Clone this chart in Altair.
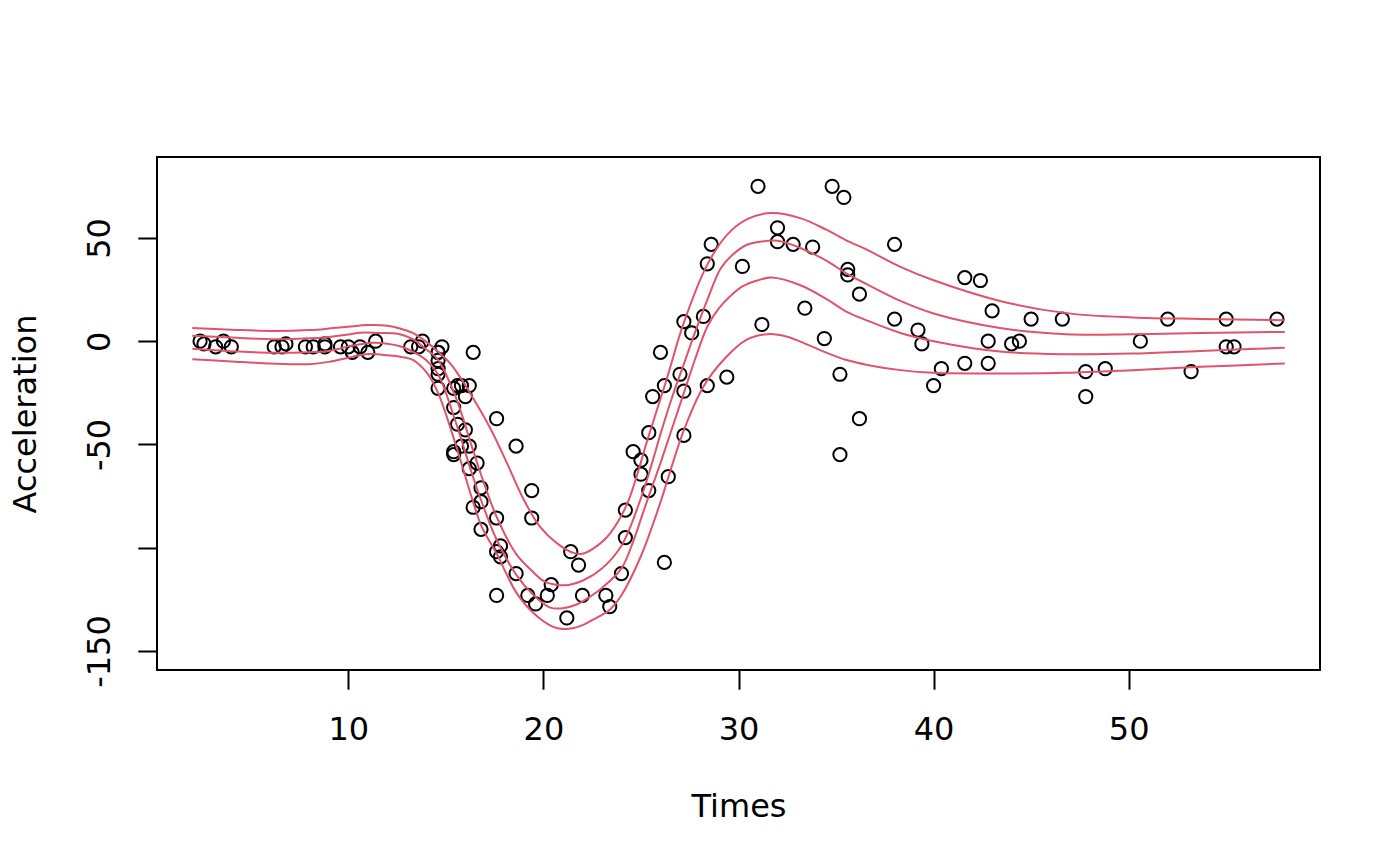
import altair as alt
import pandas as pd

# mcycle data
times = [2.4, 2.6, 3.2, 3.6, 4.0, 6.2, 6.6, 6.8, 7.8, 8.2,
         8.8, 8.8, 9.6, 10.0, 10.2, 10.6, 11.0, 11.4, 13.2, 13.6,
         13.8, 14.6, 14.6, 14.6, 14.6, 14.6, 14.6, 14.8, 15.4, 15.4,
         15.4, 15.4, 15.6, 15.6, 15.8, 15.8, 16.0, 16.0, 16.2, 16.2,
         16.2, 16.4, 16.4, 16.6, 16.8, 16.8, 16.8, 17.6, 17.6, 17.6,
         17.6, 17.8, 17.8, 18.6, 18.6, 19.2, 19.4, 19.4, 19.6, 20.2,
         20.4, 21.2, 21.4, 21.8, 22.0, 23.2, 23.4, 24.0, 24.2, 24.2,
         24.6, 25.0, 25.0, 25.4, 25.4, 25.6, 26.0, 26.2, 26.2, 26.4,
         27.0, 27.2, 27.2, 27.2, 27.6, 28.2, 28.4, 28.4, 28.6, 29.4,
         30.2, 31.0, 31.2, 32.0, 32.0, 32.8, 33.4, 33.8, 34.4, 34.8,
         35.2, 35.2, 35.4, 35.6, 35.6, 36.2, 36.2, 38.0, 38.0, 39.2,
         39.4, 40.0, 40.4, 41.6, 41.6, 42.4, 42.8, 42.8, 43.0, 44.0,
         44.4, 45.0, 46.6, 47.8, 47.8, 48.8, 50.6, 52.0, 53.2, 55.0,
         55.0, 55.4, 57.6]
accel = [0.0, -1.3, -2.7, 0.0, -2.7, -2.7, -2.7, -1.3, -2.7, -2.7,
         -1.3, -2.7, -2.7, -2.7, -5.4, -2.7, -5.4, 0.0, -2.7, -2.7,
         0.0, -13.3, -5.4, -5.4, -9.3, -16.0, -22.8, -2.7, -22.8, -32.1,
         -53.5, -54.9, -40.2, -21.5, -21.5, -50.8, -42.9, -26.8, -21.5, -50.8,
         -61.7, -5.4, -80.4, -59.0, -71.0, -91.1, -77.7, -37.5, -85.6, -123.1,
         -101.9, -99.1, -104.4, -112.5, -50.8, -123.1, -85.6, -72.3, -127.2, -123.1,
         -117.9, -134.0, -101.9, -108.4, -123.1, -123.1, -128.5, -112.5, -95.1, -81.8,
         -53.5, -64.4, -57.6, -72.3, -44.3, -26.8, -5.4, -107.1, -21.5, -65.6,
         -16.0, -45.6, -24.2, 9.5, 4.0, 12.0, -21.5, 37.5, 46.9, -17.4,
         36.2, 75.0, 8.1, 54.9, 48.2, 46.9, 16.0, 45.6, 1.3, 75.0,
         -16.0, -54.9, 69.6, 34.8, 32.1, -37.5, 22.8, 46.9, 10.7, 5.4,
         -1.3, -21.5, -13.3, 30.8, -10.7, 29.4, 0.0, -10.7, 14.7, -1.3,
         0.0, 10.7, 10.7, -26.8, -14.7, -13.3, 0.0, 10.7, -14.7, -2.7,
         10.7, -2.7, 10.7]

# fitted quantile curves
q80_x = [2, 4, 6, 8, 9, 10, 11, 12, 12.65, 13.3, 14, 14.6, 15.2, 15.7, 16.3,
         17.27, 18.13, 18.98, 19.83, 20.7, 21.54, 22.06, 22.9, 23.42, 24.28,
         25.39, 26.33, 27.18, 28.37, 29.4, 30.42, 31.7, 33.2, 34.5, 35.5,
         36.6, 38.3, 40, 43.4, 46.8, 50.2, 53.7, 58]
q80_y = [6.4, 5.6, 5.0, 5.4, 6.1, 7.0, 7.8, 7.5, 6.2, 4.0, -0.3, -5, -10.5, -17, -26,
         -42, -59, -76.5, -89.9, -97.9, -102.5, -102.8, -98, -93, -79,
         -46, -18, 8.5, 36.5, 51.4, 59.0, 62.1, 59.5, 54, 49,
         44.2, 36, 29.5, 19.5, 13.6, 11.5, 10.8, 10.2]

q60_x = [2, 4, 6, 8, 9, 10, 10.6, 11.5, 12.65, 13.3, 14, 14.6, 15.5, 16.4, 17,
         17.6, 18.6, 19.5, 20, 20.7, 21.3, 22, 23, 24, 25, 25.6, 26, 26.6, 27.2,
         27.8, 28.4, 29.07, 29.6, 30.4, 31, 32, 33.2, 34.5, 35.5, 36.6, 38.3, 40,
         43.4, 46.8, 50.2, 53.7, 58]
q60_y = [2.6, 1.8, 1.0, 1.4, 2.1, 3.2, 4.1, 4.0, 3.4, 1.0, -4, -9, -27, -53, -70,
         -85, -103, -112, -116, -118, -118, -116, -110, -99, -76, -58, -45, -27, -11,
         5, 20, 35, 41, 46.6, 48, 48.6, 45, 39, 33, 27.5, 19.5, 13.4,
         6.4, 3.4, 3.4, 4.0, 4.5]

q40_x = [2, 4, 6, 8, 9, 10, 10.6, 11.3, 12, 12.65, 13.3, 14, 14.6, 15.5, 16.4,
         17, 17.6, 18.6, 19.5, 20.35, 21, 21.7, 22.5, 23, 24, 24.6, 25, 25.4, 26,
         26.6, 27.2, 27.8, 28.4, 29, 29.6, 30.2, 31, 31.7, 33.2, 34.5, 35.5,
         36.6, 38.3, 40, 43.4, 46.8, 50.2, 53.7, 58]
q40_y = [-3.7, -4.8, -5.6, -5.3, -4.7, -2.5, -1.5, -0.8, -1.2, -2.4, -5, -9.2, -16, -39, -66,
         -82, -96, -113, -123, -129, -129.3, -127.5, -123, -119.5, -110, -97, -86, -75, -59,
         -42, -25, -8, 7, 16, 22, 26.5, 29.5, 30.8, 27, 20.5, 14.5,
         10, 4, 0, -5, -6.3, -6.0, -4.7, -3.2]

q20_x = [2, 4, 6, 8, 9, 10, 10.6, 11.2, 12, 12.65, 13.3, 14, 14.6, 15.5, 16.42,
         16.84, 17.6, 18.63, 19.5, 20.5, 21, 21.5, 22, 22.5, 23, 23.4, 24, 25, 26,
         26.4, 27.2, 28.2, 29.24, 30.4, 31.5, 32.5, 33.5, 34.5, 35.5, 36.6, 38.3,
         40, 43.4, 46.8, 50.2, 53.7, 58]
q20_y = [-8.7, -9.8, -10.8, -11.1, -10, -8, -6.7, -6.2, -6.8, -7.5, -9, -15, -25, -50, -78.5,
         -89.9, -102.8, -122, -131.7, -138.3, -139.3, -139, -137.5, -135, -132.5, -130, -123, -104, -78,
         -66, -43, -22, -9, 0.6, 3.4, 2.2, -1.5, -5.5, -9, -11.5, -14,
         -15.3, -15.6, -15.3, -14.0, -12.4, -10.8]

pts = pd.DataFrame({"times": times, "accel": accel})
curves = pd.concat([
    pd.DataFrame({"times": q20_x, "accel": q20_y, "qu": "0.2"}),
    pd.DataFrame({"times": q40_x, "accel": q40_y, "qu": "0.4"}),
    pd.DataFrame({"times": q60_x, "accel": q60_y, "qu": "0.6"}),
    pd.DataFrame({"times": q80_x, "accel": q80_y, "qu": "0.8"}),
], ignore_index=True)

FONT = "DejaVu Sans"
FS = 32

xscale = alt.Scale(domain=[0.192, 59.808], nice=False, zero=False)
yscale = alt.Scale(domain=[-159.2, 89.2], nice=False, zero=False)

xaxis = alt.Axis(values=[10, 20, 30, 40, 50], title="Times", grid=False, domain=False,
                 tickSize=19.2, tickWidth=2, tickColor="black",
                 labelExpr="'' + datum.value",
                 labelFont=FONT, labelFontSize=FS, labelColor="black",
                 labelPadding=50, labelBaseline="alphabetic", labelFlush=False,
                 labelOverlap=False,
                 titleFont=FONT, titleFontSize=FS, titleFontWeight="normal",
                 titleColor="black", titleBaseline="alphabetic", titleY=146.7)
yaxis = alt.Axis(values=[-150, -100, -50, 0, 50], title="Acceleration", grid=False,
                 domain=False, tickSize=19.2, tickWidth=2, tickColor="black",
                 labelExpr="datum.value == -100 ? '' : '' + datum.value",
                 labelFont=FONT, labelFontSize=FS, labelColor="black",
                 labelAngle=270, labelAlign="center", labelBaseline="alphabetic",
                 labelPadding=28.3, labelFlush=False, labelOverlap=False,
                 titleFont=FONT, titleFontSize=FS, titleFontWeight="normal",
                 titleColor="black", titleAngle=270, titleAlign="center",
                 titleBaseline="alphabetic", titleX=-121.5, titleY=256.5)

points = alt.Chart(pts).mark_point(shape="circle", filled=False, color="black",
                                   strokeWidth=2, size=175, opacity=1).encode(
    x=alt.X("times:Q", scale=xscale, axis=xaxis),
    y=alt.Y("accel:Q", scale=yscale, axis=yaxis),
)

lines = alt.Chart(curves).mark_line(color="#DF536B", strokeWidth=2,
                                    interpolate="catmull-rom").encode(
    x=alt.X("times:Q", scale=xscale),
    y=alt.Y("accel:Q", scale=yscale),
    detail="qu:N",
)

chart = alt.layer(points, lines).properties(
    width=1163, height=513,
    autosize=alt.AutoSizeParams(type="none"),
    padding={"left": 149, "top": 149, "right": 72, "bottom": 188},
).configure(background="white").configure_view(stroke="black", strokeWidth=2)

chart.save("out.html", embed_options={"renderer": "svg", "actions": False})
